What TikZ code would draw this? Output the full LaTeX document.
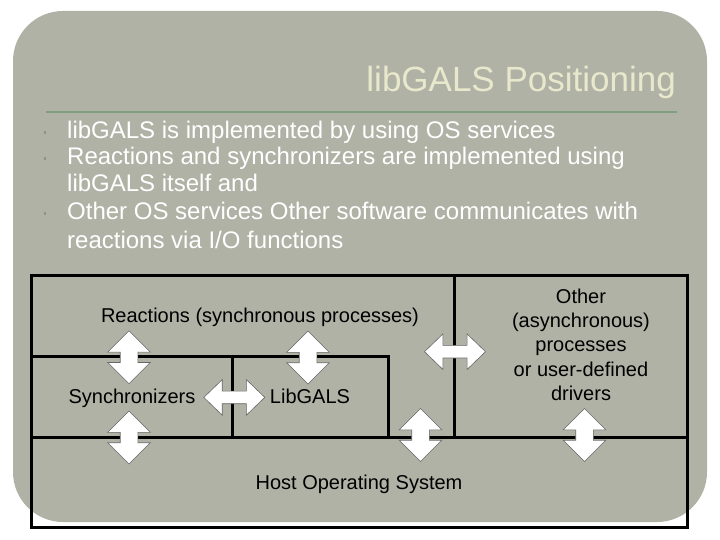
\documentclass[tikz,border=0pt]{standalone}
\usepackage{fontspec}
\setmainfont{Liberation Sans}
\usetikzlibrary{shapes.arrows}
\definecolor{slidegray}{RGB}{177,178,166}
\definecolor{titlecream}{RGB}{232,232,204}
\definecolor{rulegreen}{RGB}{128,158,128}
\definecolor{bulletgray}{RGB}{140,148,134}
\tikzset{
  vdbl/.style={double arrow, draw=black!60, line width=0.6pt, fill=white,
    inner xsep=0pt, inner ysep=8.5pt, minimum height=53pt, minimum width=42pt,
    double arrow head extend=12.5pt, double arrow tip angle=90, rotate=90},
  hdbl/.style={double arrow, draw=black!60, line width=0.6pt, fill=white,
    inner xsep=0pt, inner ysep=6pt, minimum height=61pt, minimum width=35pt,
    double arrow head extend=11.5pt, double arrow tip angle=88},
  lbl/.style={font=\fontsize{20}{24.4}\selectfont, inner sep=0pt, text=black},
  bul/.style={anchor=base west, inner sep=0pt, text=white, font=\fontsize{24}{28}\selectfont},
  part/.style={line width=3pt},
}

\begin{document}
\begin{tikzpicture}[x=1pt, y=-1pt]
  \useasboundingbox (0,0) rectangle (720,540);
  \fill[slidegray, rounded corners=50pt] (13,11) rectangle (707,522);
  % title
  \node[anchor=base east, inner sep=0pt, text=titlecream, font=\fontsize{35}{40}\selectfont]
    (title) at (676,92) {libGALS Positioning};
  \draw[rulegreen, line width=1.2pt] (46,112) -- (677,112);
  % bullets
  \foreach \y in {133,159,214} \fill[bulletgray] (44,\y-1.5) rectangle (46,\y+1.5);
  \node[bul] (l1) at (67,139) {libGALS is implemented by using OS services};
  \node[bul] (l2) at (67,165) {Reactions and synchronizers are implemented using};
  \node[bul] (l3) at (67,192) {libGALS itself and};
  \node[bul] (l4) at (67,220) {Other OS services Other software communicates with};
  \node[bul] (l5) at (67,248) {reactions via I/O functions};
  % layers
  \draw[part] (31,275) rectangle (687,527);
  \draw[part] (31,356) -- (388,356) -- (388,437);
  \draw[part] (232,356) -- (232,437);
  \draw[part] (31,437) -- (687,437);
  \draw[part] (454,275) -- (454,437);
  \node[lbl, anchor=base] (react) at (260,322) {Reactions (synchronous processes)};
  \node[lbl, anchor=base] (sync) at (132,403) {Synchronizers};
  \node[lbl, anchor=base] (lib) at (310,403) {LibGALS};
  \node[lbl, anchor=north, align=center] (other) at (581,288.5)
    {Other\\(asynchronous)\\processes\\or user-defined\\drivers};
  \node[lbl, anchor=base] (host) at (359,489) {Host Operating System};
  % arrows
  \node[vdbl] (rs) at (129,357.3) {};
  \node[vdbl] (rl) at (308,357.5) {};
  \node[vdbl] (sh) at (129,437.5) {};
  \node[vdbl] (oh) at (420.5,435) {};
  \node[vdbl] (dh) at (584.5,435) {};
  \node[hdbl] (sl) at (234.3,397.4) {};
  \node[hdbl] (ro) at (455,351.7) {};
\end{tikzpicture}
\end{document}
